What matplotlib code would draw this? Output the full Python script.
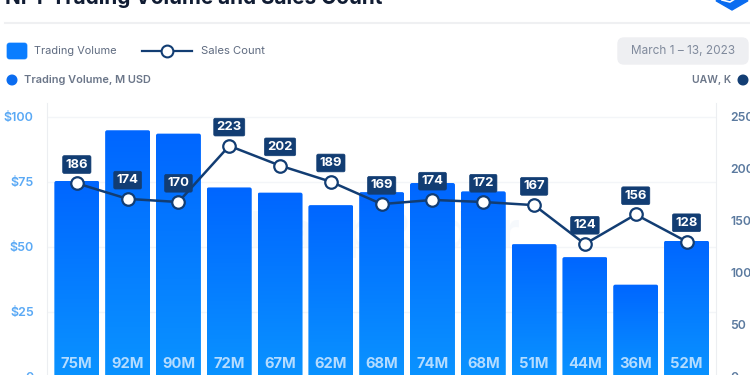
import numpy as np
import matplotlib
matplotlib.use("Agg")
import matplotlib.pyplot as plt
from matplotlib.patches import FancyBboxPatch, Circle, RegularPolygon

plt.rcParams['font.family'] = ['Inter', 'DejaVu Sans']

# valores
volume = [75.3, 94.8, 93.5, 72.8, 70.8, 66, 71, 74.5, 71.3, 51, 46, 35.4, 52.3]
volume_labels = ['75M', '92M', '90M', '72M', '67M', '62M', '68M', '74M', '68M', '51M', '44M', '36M', '52M']
sales = [186, 171, 168, 222, 203, 187.5, 166, 170, 168, 165, 127.6, 156, 130]
sales_labels = ['186', '174', '170', '223', '202', '189', '169', '174', '172', '167', '124', '156', '128']
left_ticks = [0, 25, 50, 75, 100]
left_tick_labels = ['0', '$25', '$50', '$75', '$100']
right_ticks = [0, 50, 100, 150, 200, 250]

NAVY = '#123d73'
BLUE = '#0a7dff'

fig = plt.figure(figsize=(7.5, 3.75), dpi=100, facecolor='white')

# capa en pixeles para titulo, leyenda y cabecera
over = fig.add_axes([0, 0, 1, 1])
over.set_xlim(0, 750)
over.set_ylim(375, 0)
over.axis('off')

over.text(5, -3, 'NFT Trading Volume and Sales Count', fontsize=14.9, fontweight='bold',
          color='#101c33', va='center', ha='left')
over.plot([5, 750], [23, 23], color='#eff0f2', lw=1.5)
over.add_patch(RegularPolygon((732, -8), 6, radius=18, color='#0a6cf0'))
over.plot([722, 730, 738], [0, 2, -3], color='white', lw=1.2)

over.add_patch(FancyBboxPatch((7, 43), 20, 16, boxstyle='round,pad=0,rounding_size=2.5', fc=BLUE, ec=BLUE, lw=0.5))
over.text(34, 51, 'Trading Volume', fontsize=7.9, color='#5f6b80', va='center')
over.plot([142, 192], [51, 51], color=NAVY, lw=1.6)
over.plot([167], [51], 'o', ms=8.5, mfc='white', mec=NAVY, mew=1.5)
over.text(201, 51, 'Sales Count', fontsize=8.1, color='#5f6b80', va='center')

over.add_patch(Circle((12, 80), 4.8, color='#0a6cf0'))
over.text(24, 80, 'Trading Volume, M USD', fontsize=7.9, fontweight='semibold', color='#6b7689', va='center')
over.text(731, 80, 'UAW, K', fontsize=7.5, fontweight='semibold', color='#6b7689', va='center', ha='right')
over.add_patch(Circle((743, 80), 4.8, color=NAVY))

over.add_patch(FancyBboxPatch((618, 38), 130, 26, boxstyle='round,pad=0,rounding_size=6', fc='#eeeff2', ec='#eeeff2'))
over.text(683, 51, 'March 1 \u2013 13, 2023', fontsize=8.5, color='#808a9c', va='center', ha='center')
over.text(385, 235, 'DappRadar', fontsize=36, fontweight='bold', color='#eef4fb', alpha=0.5,
          va='center', ha='center', zorder=0)

# ejes principales, x de 47 a 716 y y de 102.7 a 376.7 en pixeles
ax = fig.add_axes([47 / 750, (375 - 376.7) / 375, 669 / 750, 274 / 375])
ax.patch.set_alpha(0)
x = np.arange(len(volume))
ax.set_xlim(-0.587, 12.58)
ax.set_ylim(0, 105.4)

bars = ax.bar(x, volume, width=0.885, color='none', zorder=2)
gradient = np.linspace(0, 1, 256).reshape(-1, 1)
cmap = matplotlib.colors.LinearSegmentedColormap.from_list('vol', ['#0066ff', '#0a93ff'])
for b in bars:
    bx, bw, bh = b.get_x(), b.get_width(), b.get_height()
    im = ax.imshow(gradient, extent=(bx, bx + bw, 0, bh), cmap=cmap, aspect='auto', zorder=2)
    clip = FancyBboxPatch((bx, 0), bw, bh, boxstyle='round,pad=0,rounding_size=0.04',
                          mutation_aspect=19, transform=ax.transData, fc='none', ec='none')
    ax.add_patch(clip)
    im.set_clip_path(clip)
ax.set_xlim(-0.587, 12.58)
ax.set_ylim(0, 105.4)

for i, lab in enumerate(volume_labels):
    ax.annotate(lab, (x[i], 0), xytext=(0, 9.5), textcoords='offset points', ha='center', va='center',
                fontsize=10.6, fontweight='bold', color='#b4dcff', zorder=3)

ax.set_xticks([])
ax.set_yticks(left_ticks)
ax.set_yticklabels(left_tick_labels)
ax.tick_params(axis='y', length=0, pad=9.5, labelsize=9, labelcolor='#5aa9f5')
for t in ax.get_yticklabels():
    t.set_fontweight('semibold')
ax.grid(axis='y', color='#f3f5f8', lw=1, zorder=0)
ax.set_axisbelow(True)
for s in ['top', 'bottom']:
    ax.spines[s].set_visible(False)
for s in ['left', 'right']:
    ax.spines[s].set_color('#eceef1')

ax2 = ax.twinx()
ax2.set_ylim(0, 263.5)
ax2.plot(x, sales, color=NAVY, lw=1.8, marker='o', ms=9, mfc='white', mec=NAVY, mew=1.6, zorder=4)
for i, lab in enumerate(sales_labels):
    ax2.annotate(lab, (x[i], sales[i]), xytext=(0, 13.5), textcoords='offset points', ha='center', va='center',
                 fontsize=9.4, fontweight='bold', color='white', zorder=5,
                 bbox=dict(boxstyle='round,pad=0.22,rounding_size=0.12', fc=NAVY, ec=NAVY, lw=0.5))
ax2.set_yticks(right_ticks)
ax2.tick_params(axis='y', length=0, pad=10.5, labelsize=8.8, labelcolor='#5b7a9f')
for t in ax2.get_yticklabels():
    t.set_fontweight('semibold')
for s in ['top', 'bottom', 'left', 'right']:
    ax2.spines[s].set_visible(False)

fig.savefig('out.png', dpi=100)
